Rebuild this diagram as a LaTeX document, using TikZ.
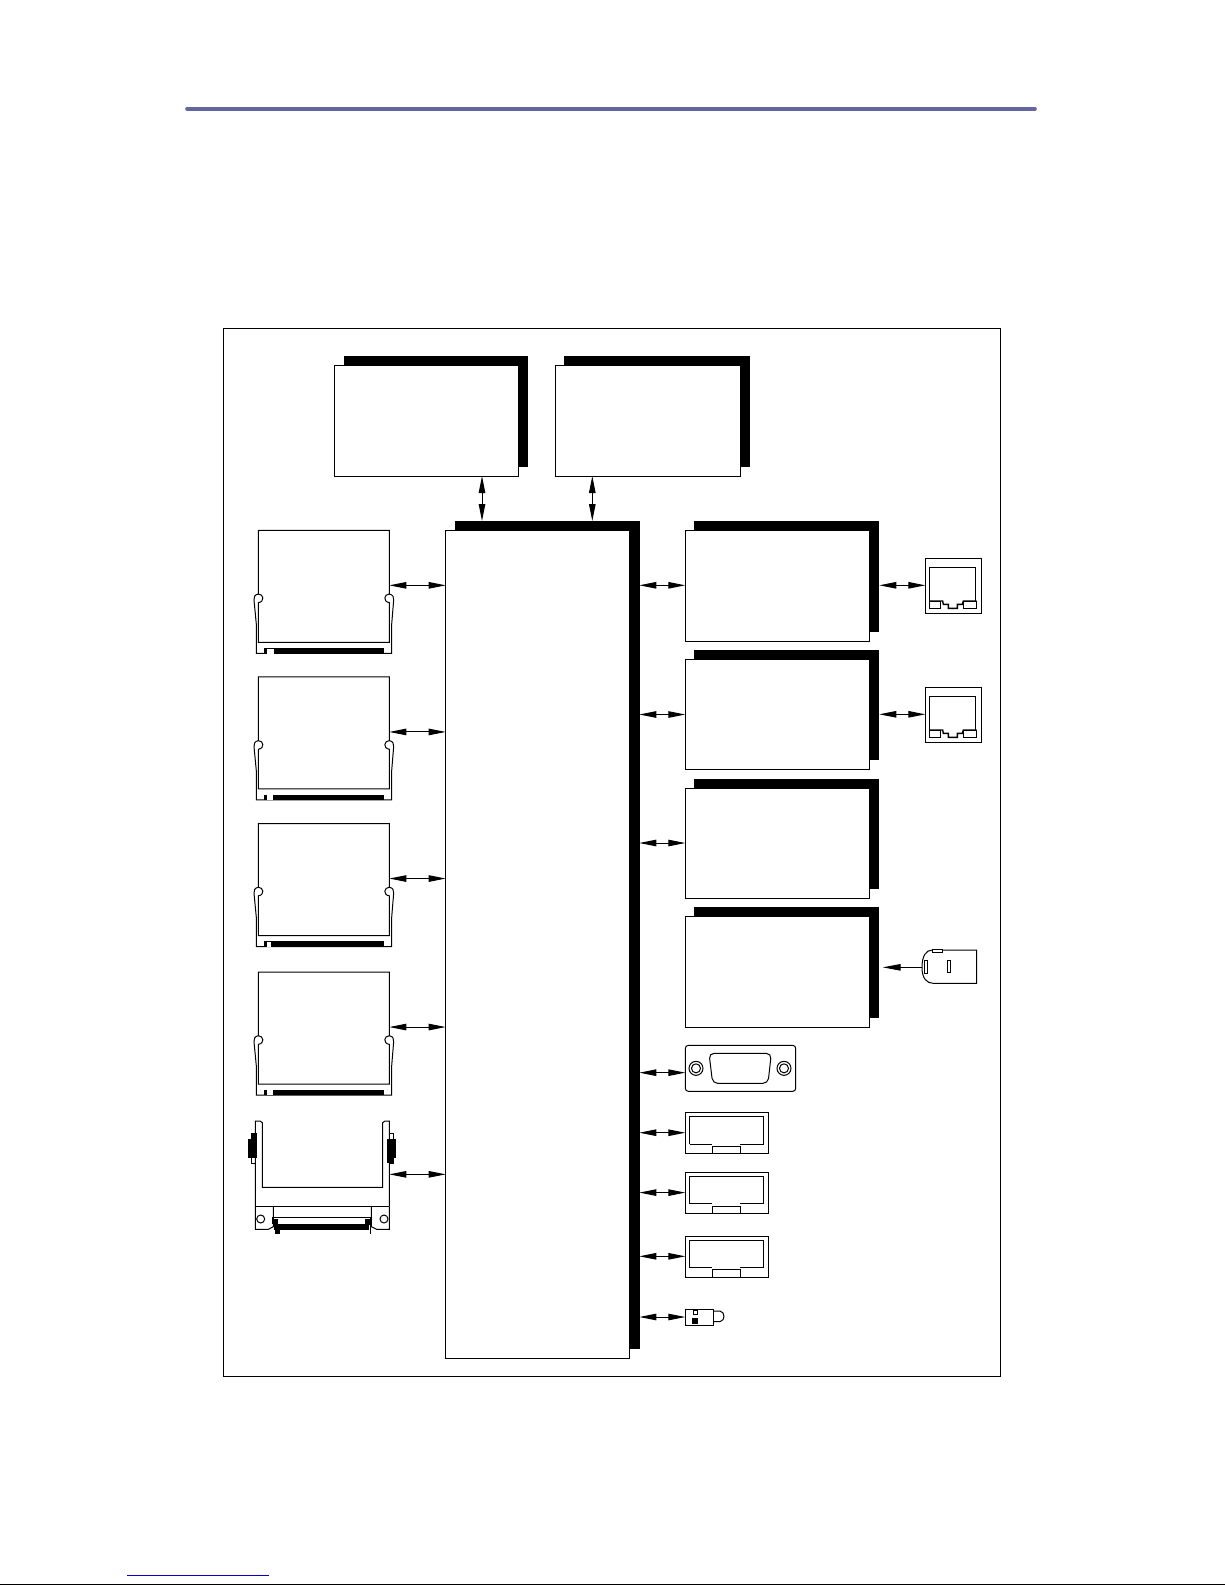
\documentclass[tikz,border=0pt]{standalone}
\usetikzlibrary{arrows.meta}
\definecolor{rulecol}{HTML}{65659F}
\definecolor{linkcol}{HTML}{0000CC}
\tikzset{
  plain/.style={line width=1pt,draw=black},
  boxn/.style={plain,fill=white,rectangle,inner sep=0pt,outer sep=0pt,anchor=north west,minimum width=184pt,minimum height=110.5pt},
  shade/.style={fill=black,draw=none},
  bi/.style={line width=1pt,{Triangle[length=17pt,width=6.5pt]}-{Triangle[length=17pt,width=6.5pt]},shorten <=0pt,shorten >=0pt},
  uni/.style={line width=1pt,-{Triangle[length=18pt,width=6.5pt]}},
  zoomscale/.style={x=0.33333pt,y=-0.33333pt,line width=1pt}
}
% shadowed box: name, x, y, width, height
\newcommand\shbox[5]{%
  \fill[shade] ({#2+9},{#3-9.5}) rectangle ({#2+#4+9.8},{#3+#5-9.5});
  \node[boxn,minimum width=#4 pt,minimum height=#5 pt] (#1) at (#2,#3) {};
}
% memory module socket: name, vertical offset, first white bar left/right
\newcommand\module[4]{%
  \begin{scope}[shift={(230,{520+#2})},zoomscale]
    \draw[plain] (85,222) -- (85,31) -- (478,31) -- (478,222)
       .. controls (462,222) and (458,245) .. (478,248) -- (478,367) -- (85,367) -- (85,248)
       .. controls (105,245) and (101,222) .. (85,222);
    \draw[plain] (85,222) .. controls (74,224) and (71,232) .. (72,240) -- (79,313) -- (79,400) -- (485,400) -- (485,313) -- (491,240)
       .. controls (492,232) and (489,224) .. (478,222);
    \draw[plain] (85,248) -- (85,313); \draw[plain] (478,248) -- (478,313);
    \fill[black] (102,384) rectangle (463,401);
    \fill[white] (#3,386) rectangle (#4,401);
    \fill[white] (119,386) rectangle (124,401);
    \coordinate (#1) at (478,196);
  \end{scope}
}
\newcommand\rjport[3]{%
  \begin{scope}[shift={(860,{540+#2})},zoomscale]
    \node[plain,rectangle,inner sep=0pt,minimum width=55.3pt,minimum height=55pt,anchor=north west] (#1) at (196,55) {};
    \draw[plain] (208,183) -- (208,82) -- (347,82) -- (347,183);
    \draw[plain,line width=1.4pt] (208,183) -- (248,183) -- (250,193) -- (265,193) -- (265,205) -- (292,205) -- (292,193) -- (307,193) -- (310,183) -- (350,183);
    \draw[plain] (208,183) rectangle (242,205);
    \draw[plain] (310,183) rectangle (350,205);
  \end{scope}
}
\newcommand\header[3]{%
  \node[plain,rectangle,inner sep=0pt,outer sep=0pt,minimum width=83pt,minimum height=41pt,anchor=north west] (#1) at (685.3,#2) {};
  \begin{scope}[shift={(685.3,#2)},zoomscale]
    \draw[plain] (13,94) -- (13,12) -- (235,12) -- (235,94) -- (165,94);
    \draw[plain] (13,94) -- (81,94);
    \draw[plain] (81,123) -- (81,101) -- (165,101) -- (165,123);
  \end{scope}
}
\begin{document}
\begin{tikzpicture}[x=1pt,y=-1pt]
\path[use as bounding box] (0,0) rectangle (1225,1585);
\fill[white] (0,0) rectangle (1225,1585);
% header rule and page residue
\draw[rulecol,line width=3.6pt,line cap=round] (187,108.8) -- (1035,108.8);
\draw[linkcol,line width=1pt] (127,1575.3) -- (269,1575.3);
\fill[black] (0,1584) rectangle (1225,1585);
% frame
\draw[plain] (223.3,328.5) rectangle (1000,1376);

% top boxes
\shbox{cpuA}{334.5}{365}{184}{111}
\shbox{cpuB}{555}{365}{185}{111}
% main chip
\shbox{main}{445.7}{530.5}{184}{827.8}
% right boxes
\shbox{phyA}{685.3}{530.5}{184}{110.5}
\shbox{phyB}{685.3}{659}{184}{110.5}
\shbox{phyC}{685.3}{788}{184}{110.5}
\shbox{phyD}{685.3}{916.7}{184}{110.5}

% memory sockets
\module{mA}{0}{110}{133}
\module{mB}{146.6}{110}{128}
\module{mC}{293.2}{110}{123}
\module{mD}{441.7}{110}{128}

% CF socket
\begin{scope}[shift={(230,1100)},zoomscale]
  \draw[plain] (76,319) -- (76,63) -- (90,63) -- (97,68) -- (97,262) -- (458,262) -- (458,68) -- (465,63) -- (478,63) -- (478,319);
  \draw[plain] (76,319) -- (478,319);
  \draw[plain] (76,319) -- (76,388) -- (115,388) -- (130,380) -- (130,319);
  \draw[plain] (478,319) -- (478,388) -- (440,388) -- (424,380) -- (424,319);
  \draw[plain] (130,352) -- (424,352);
  \draw[plain] (92,357) circle (4pt);
  \draw[plain] (462,357) circle (4pt);
  \draw[plain] (63,100) rectangle (76,190);
  \draw[plain] (478,100) rectangle (491,190);
  \fill[black] (63,100) rectangle (80,117);
  \fill[black] (54,117) rectangle (80,173);
  \fill[black] (471,117) rectangle (497,173);
  \fill[black] (471,173) rectangle (491,190);
  \fill[black] (133,372) rectangle (418,390);
  \fill[black] (128,358) rectangle (143,378);
  \fill[black] (405,358) rectangle (420,375);
  \fill[black] (135,388) rectangle (150,402);
  \draw[plain] (128,352) -- (128,372); \draw[plain] (420,352) -- (420,402);
  \coordinate (cf) at (478,223);
\end{scope}

% RJ45
\rjport{rjA}{0}{}
\rjport{rjB}{129}{}

% power plug
\begin{scope}[shift={(860,930)},zoomscale]
  \draw[plain] (217,60) .. controls (198,60) and (186,78) .. (186,112) .. controls (186,145) and (200,160) .. (220,160) -- (350,160) -- (350,60) -- (248,60);
  \draw[plain,fill=white] (217,57) rectangle (248,67);
  \draw[plain] (192,90) rectangle (203,130);
  \draw[plain] (263,90) rectangle (272,127);
  \coordinate (plug) at (186,112);
  \coordinate (plugend) at (68,112);
\end{scope}

% DB9
\begin{scope}[shift={(630,1030)},zoomscale]
  \node[plain,rectangle,rounded corners=3pt,inner sep=0pt,outer sep=0pt,minimum width=110.4pt,minimum height=46pt,anchor=north west] (db) at (166,46) {};
  \draw[plain] (198,115) circle (7pt);
  \draw[plain] (198,115) circle (4.5pt);
  \draw[plain] (462,115) circle (7pt);
  \draw[plain] (462,115) circle (4.5pt);
  \draw[plain,rounded corners=5pt] (237,70) -- (424,70) -- (414,160) -- (248,160) -- cycle;
  \coordinate (dbp) at (166,128);
\end{scope}

% headers
\header{hA}{1112.7}{}
\header{hB}{1172.4}{}
\header{hC}{1236.3}{}

% LED
\begin{scope}[shift={(620,1220)},zoomscale]
  \node[plain,rectangle,inner sep=0pt,outer sep=0pt,minimum width=28.4pt,minimum height=16pt,anchor=north west] (led) at (196,267) {};
  \draw[plain] (281,273) -- (300,273) .. controls (316,276) and (316,302) .. (300,305) -- (281,305);
  \draw[plain] (219,270) rectangle (232,283);
  \fill[black] (217,295) rectangle (233,312);
  \coordinate (ledp) at (196,291);
\end{scope}

% connectors: memory to main chip
\foreach \m in {mA,mB,mC,mD,cf}
  \draw[bi] (\m) -- (\m -| main.west);
% top boxes to main
\draw[bi] (cpuA.south -| 482,0) -- (482,521);
\draw[bi] (592.3,476) -- (592.3,521);
% main to right boxes
\coordinate (mrg) at (639.3,0);
\draw[bi] (mrg |- 0,585.3) -- (phyA.west |- 0,585.3);
\draw[bi] (mrg |- 0,714.5) -- (phyB.west |- 0,714.5);
\draw[bi] (mrg |- 0,843) -- (phyC.west |- 0,843);
\draw[bi] (mrg |- dbp) -- (dbp);
\draw[bi] (mrg |- 0,1132.7) -- (hA.west |- 0,1132.7);
\draw[bi] (mrg |- 0,1192.6) -- (hB.west |- 0,1192.6);
\draw[bi] (mrg |- 0,1256.3) -- (hC.west |- 0,1256.3);
\draw[bi] (mrg |- ledp) -- (ledp);
% right boxes to ports
\draw[bi] (879.3,585.3) -- (rjA.west |- 0,585.3);
\draw[bi] (879.3,714.3) -- (rjB.west |- 0,714.3);
\draw[uni] (plug) -- (plugend);
\end{tikzpicture}
\end{document}
